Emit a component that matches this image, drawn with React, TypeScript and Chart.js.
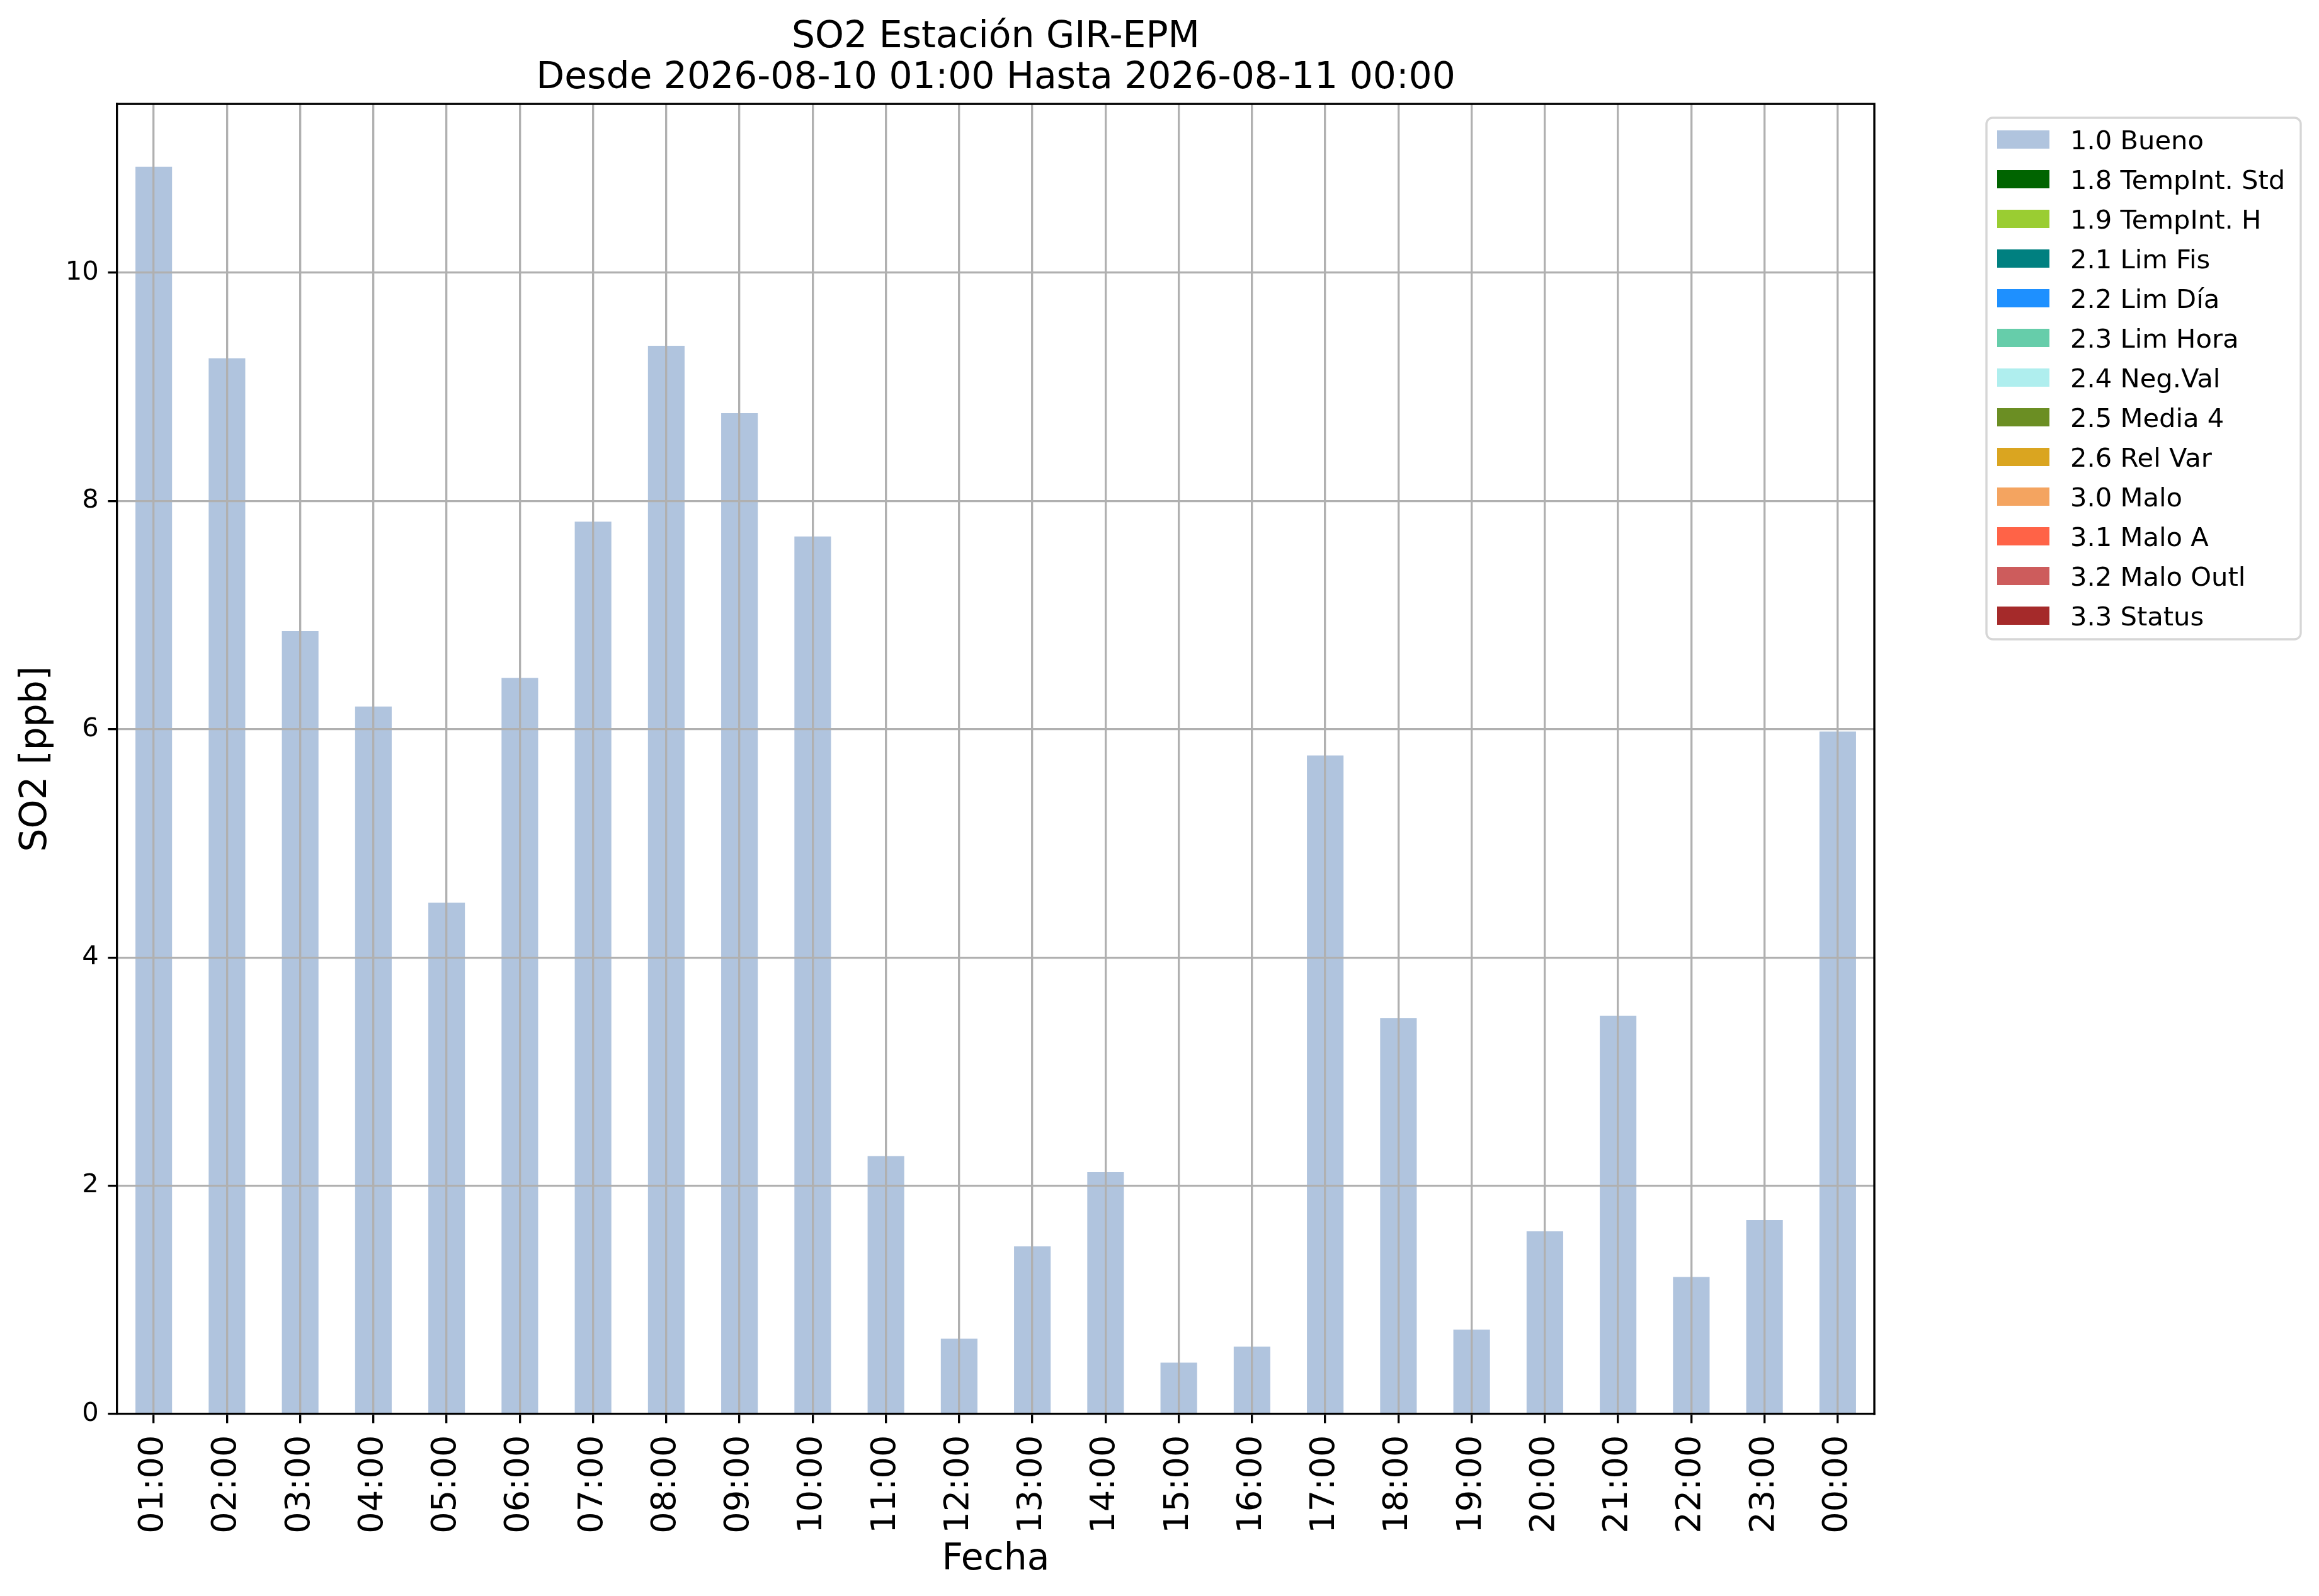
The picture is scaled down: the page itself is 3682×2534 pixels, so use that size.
import React, { useEffect, useRef } from "react";
import { Chart, registerables } from "chart.js";

Chart.register(...registerables);

const categories = [
  "01:00", "02:00", "03:00", "04:00", "05:00", "06:00", "07:00", "08:00",
  "09:00", "10:00", "11:00", "12:00", "13:00", "14:00", "15:00", "16:00",
  "17:00", "18:00", "19:00", "20:00", "21:00", "22:00", "23:00", "00:00",
];

const buenoValues = [
  10.93, 9.25, 6.86, 6.2, 4.48, 6.45, 7.82, 9.36, 8.77, 7.69, 2.26, 0.66,
  1.47, 2.12, 0.45, 0.59, 5.77, 3.47, 0.74, 1.6, 3.49, 1.2, 1.7, 5.98,
];

const flagLabels = [
  "1.0 Bueno", "1.8 TempInt. Std", "1.9 TempInt. H", "2.1 Lim Fis", "2.2 Lim Día",
  "2.3 Lim Hora", "2.4 Neg.Val", "2.5 Media 4", "2.6 Rel Var", "3.0 Malo",
  "3.1 Malo A", "3.2 Malo Outl", "3.3 Status",
];

const flagColors = [
  "#b0c4de", "#006400", "#9acd32", "#008080", "#1e90ff", "#66cdaa", "#afeeee",
  "#6b8e23", "#daa520", "#f4a460", "#ff6347", "#cd5c5c", "#a52a2a",
];

const yTicks = [0, 2, 4, 6, 8, 10];
const yMax = 11.48;

const titleLines = ["SO2 Estación GIR-EPM", "Desde 2026-08-10 01:00 Hasta 2026-08-11 00:00"];
const yLabel = "SO2 [ppb]";
const xLabel = "Fecha";

const W = 3682;
const H = 2534;
const PT = 300 / 72;
const FONT = "'DejaVu Sans', 'Liberation Sans', sans-serif";

const decorPlugin = {
  id: "decor",
  afterDraw(chart: any) {
    const ctx = chart.ctx;
    const a = chart.chartArea;
    ctx.save();
    // top & right spines
    ctx.strokeStyle = "#000";
    ctx.lineWidth = 0.8 * PT;
    ctx.lineCap = "square";
    ctx.beginPath();
    ctx.moveTo(a.left, a.top);
    ctx.lineTo(a.right, a.top);
    ctx.lineTo(a.right, a.bottom);
    ctx.stroke();

    // title
    const cx = (a.left + a.right) / 2;
    ctx.fillStyle = "#000";
    ctx.textAlign = "center";
    ctx.textBaseline = "alphabetic";
    ctx.font = `${14 * PT}px ${FONT}`;
    ctx.fillText(titleLines[0], cx, 75);
    ctx.fillText(titleLines[1], cx, 140);

    // x label
    ctx.fillText(xLabel, cx, 2492);

    // y label
    ctx.save();
    ctx.translate(73, (a.top + a.bottom) / 2);
    ctx.rotate(-Math.PI / 2);
    ctx.fillText(yLabel, 0, 0);
    ctx.restore();

    // legend
    const lx = 3154, ly = 187, lw = 3653 - 3154, lh = 1015 - 187;
    ctx.beginPath();
    (ctx as any).roundRect(lx, ly, lw, lh, 10);
    ctx.fillStyle = "rgba(255,255,255,0.8)";
    ctx.fill();
    ctx.strokeStyle = "#d6d6d6";
    ctx.lineWidth = 0.8 * PT;
    ctx.stroke();

    ctx.font = `${10 * PT}px ${FONT}`;
    ctx.textAlign = "left";
    ctx.textBaseline = "alphabetic";
    chart.data.datasets.forEach((ds: any, i: number) => {
      const top = 207 + i * 63;
      ctx.fillStyle = ds.backgroundColor;
      ctx.fillRect(3171, top, 83, 29);
      ctx.fillStyle = "#000";
      ctx.fillText(ds.label, 3287, top + 29.5);
    });
    ctx.restore();
  },
};

export default function App() {
  const ref = useRef<HTMLCanvasElement | null>(null);

  useEffect(() => {
    document.body.style.margin = "0";
    document.body.style.overflow = "hidden";
    const canvas = ref.current;
    if (!canvas) return;

    const datasets = flagLabels.map((label, i) => ({
      label,
      data: i === 0 ? buenoValues : [],
      backgroundColor: flagColors[i],
      borderWidth: 0,
      barPercentage: 0.5,
      categoryPercentage: 1.0,
    }));

    const chart = new Chart(canvas, {
      type: "bar",
      data: { labels: categories, datasets },
      plugins: [decorPlugin],
      options: {
        animation: false,
        responsive: false,
        devicePixelRatio: 1,
        layout: {
          padding: { left: 186 - 120, top: 165, right: W - 2976, bottom: H - 2245 - 220 },
        },
        plugins: {
          legend: { display: false },
          title: { display: false },
          tooltip: { enabled: false },
        },
        scales: {
          x: {
            stacked: true,
            offset: true,
            afterFit: (s: any) => { s.height = 220; },
            grid: {
              offset: false,
              color: "#b0b0b0",
              lineWidth: 0.8 * PT,
              tickColor: "#000",
              tickLength: 3.5 * PT,
              tickWidth: 0.8 * PT,
              z: 1,
            },
            border: { display: true, color: "#000", width: 0.8 * PT, z: 2 },
            ticks: {
              autoSkip: false,
              minRotation: 90,
              maxRotation: 90,
              padding: 19,
              color: "#000",
              font: { family: FONT, size: 13 * PT },
            },
          },
          y: {
            stacked: true,
            min: 0,
            max: yMax,
            afterFit: (s: any) => { s.width = 120; },
            afterBuildTicks: (s: any) => { s.ticks = yTicks.map((v) => ({ value: v })); },
            grid: {
              color: "#b0b0b0",
              lineWidth: 0.8 * PT,
              tickColor: "#000",
              tickLength: 3.5 * PT,
              tickWidth: 0.8 * PT,
              z: 1,
            },
            border: { display: true, color: "#000", width: 0.8 * PT, z: 2 },
            ticks: {
              includeBounds: false,
              padding: 3.5 * PT,
              color: "#000",
              font: { family: FONT, size: 10 * PT },
              callback: (v: any) => String(v),
            },
          },
        },
      } as any,
    });

    return () => chart.destroy();
  }, []);

  return (
    <div style={{ width: W, height: H, background: "#fff" }}>
      <canvas ref={ref} width={W} height={H} style={{ width: W, height: H, display: "block" }} />
    </div>
  );
}
